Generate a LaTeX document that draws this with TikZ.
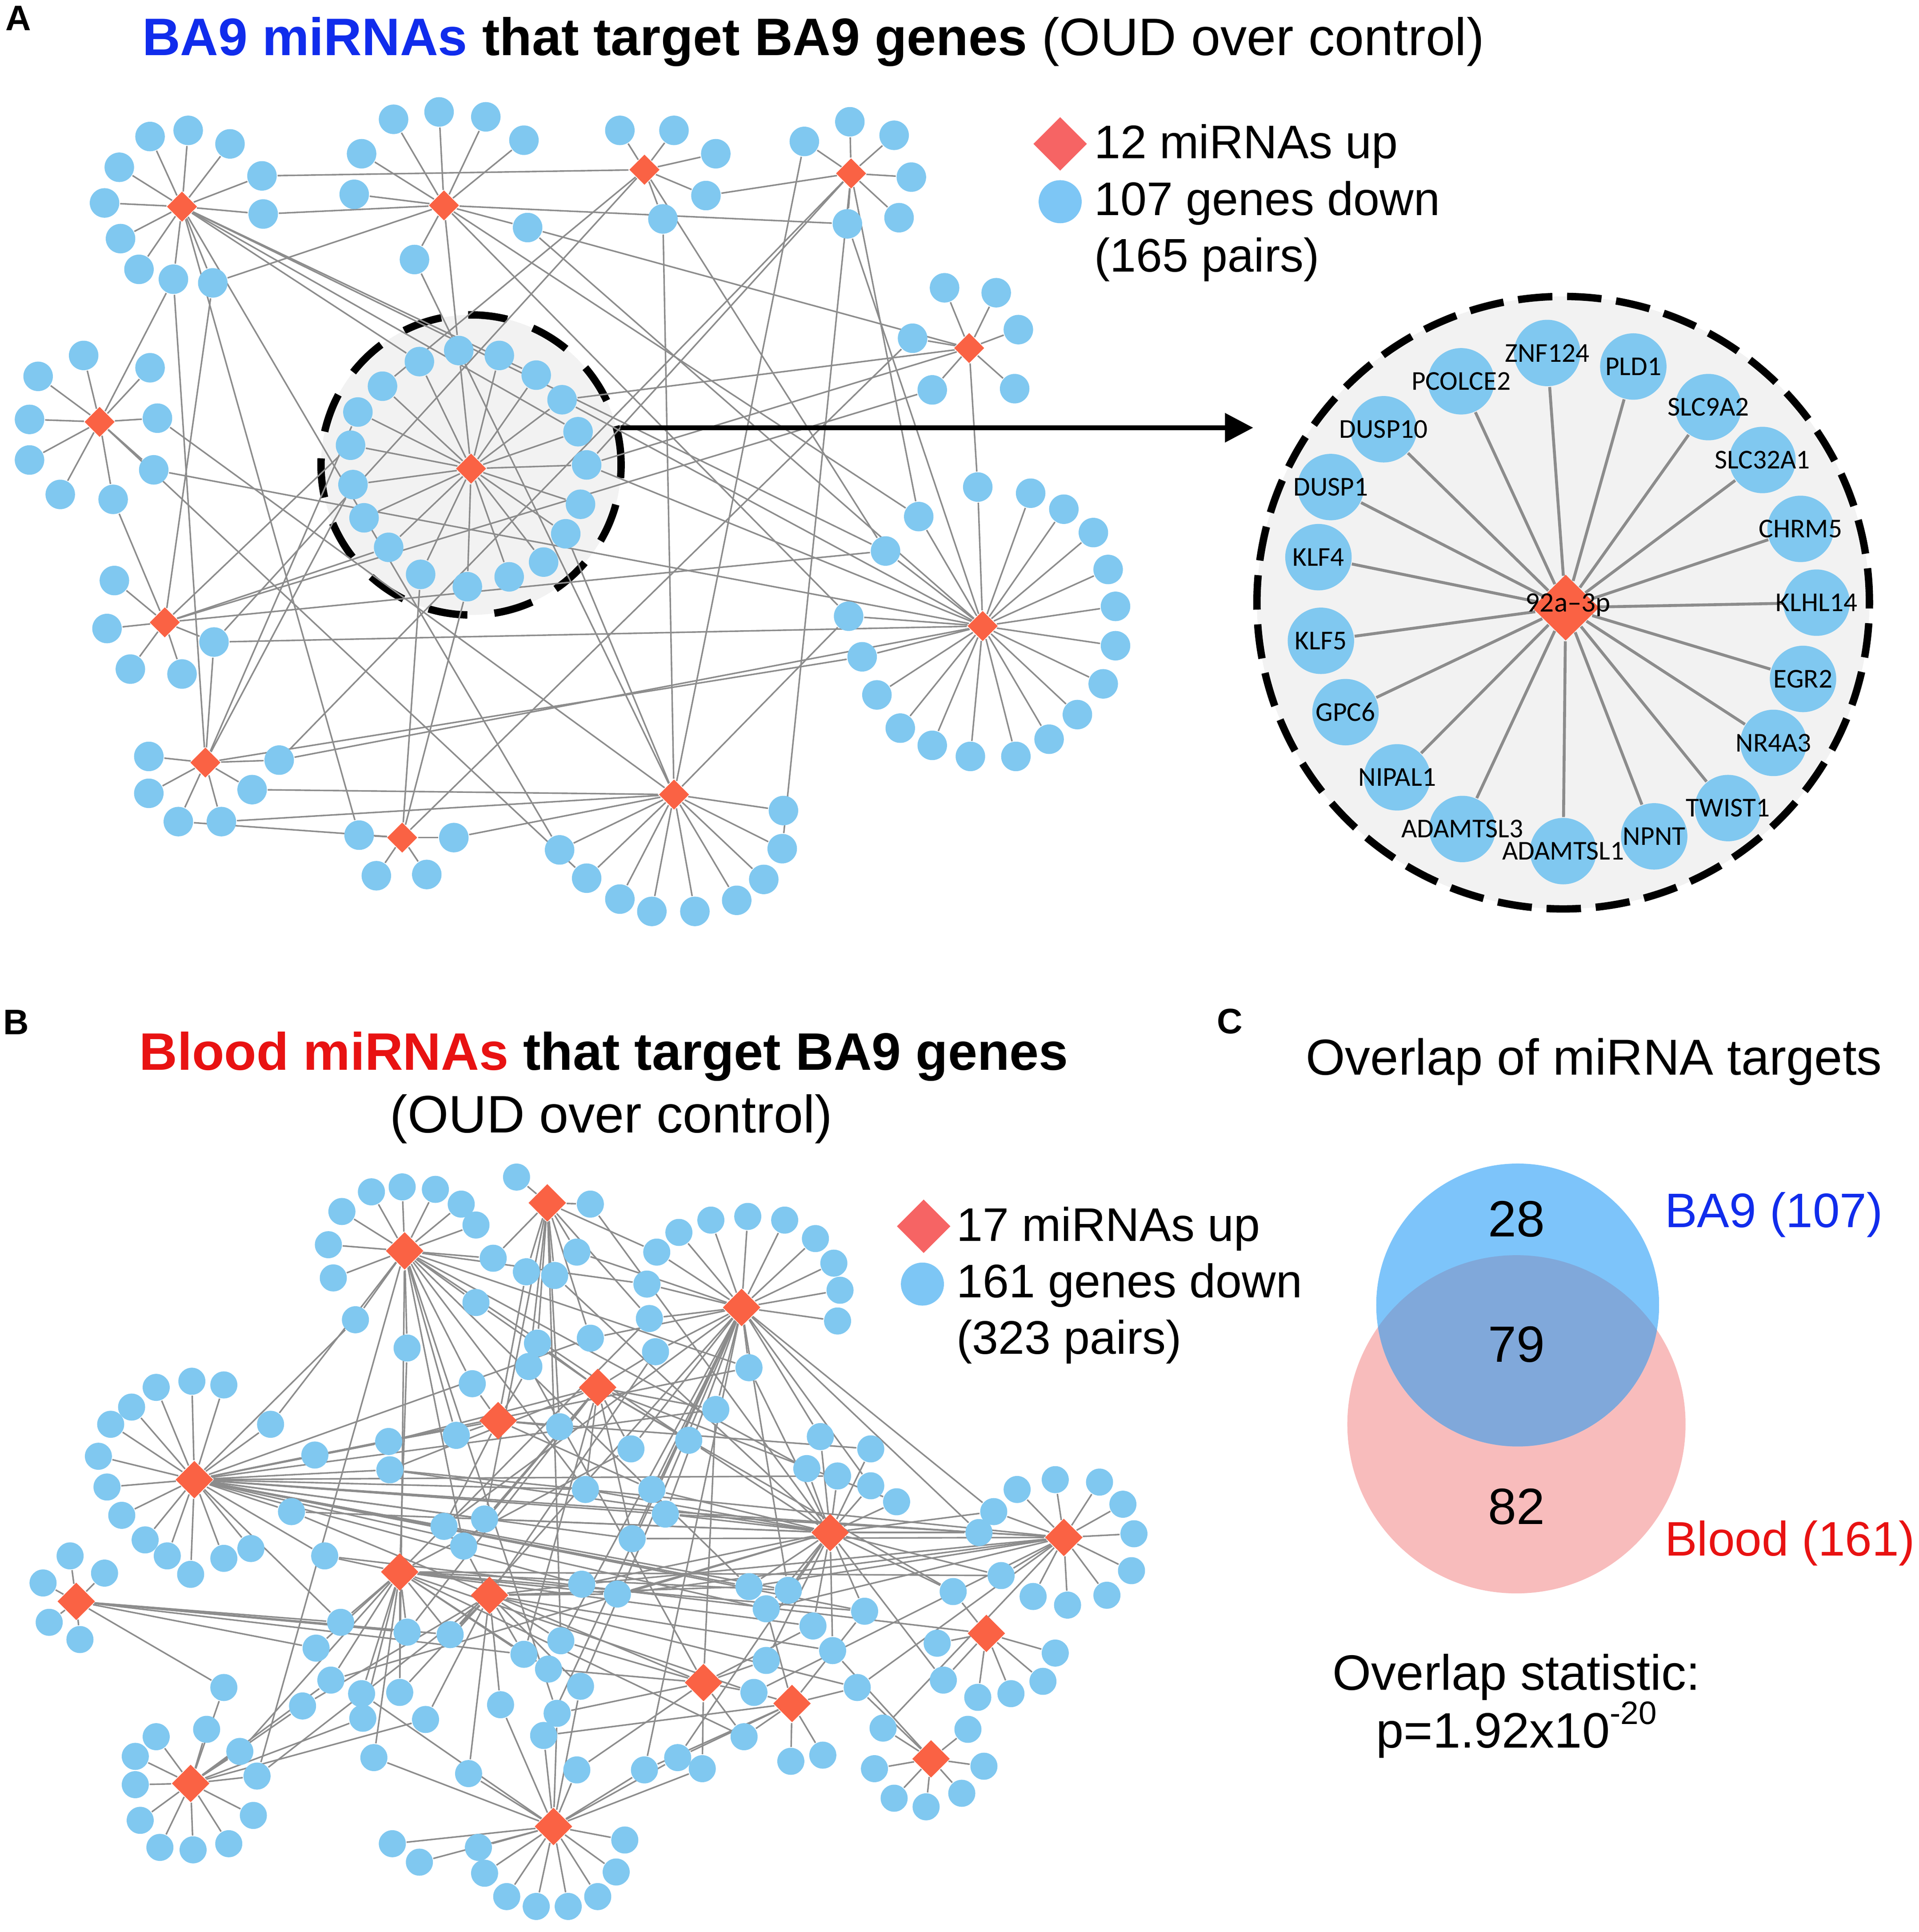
\documentclass[tikz,border=0pt]{standalone}
\usepackage{fontspec}
\setmainfont{Liberation Sans}
\newfontfamily\cytofont{Carlito}
\usetikzlibrary{shapes.geometric,arrows.meta}
\definecolor{genecol}{RGB}{128,200,240}
\definecolor{hubcol}{RGB}{250,98,68}
\definecolor{legred}{RGB}{246,100,100}
\definecolor{legblue}{RGB}{125,198,245}
\definecolor{linkgray}{RGB}{140,140,140}
\definecolor{bggray}{RGB}{242,242,242}
\definecolor{ba9blue}{RGB}{16,44,236}
\definecolor{bloodred}{RGB}{232,18,18}
\definecolor{vennblue}{RGB}{125,196,250}
\definecolor{vennpink}{RGB}{248,188,188}
\definecolor{vennmix}{RGB}{128,168,218}
\pgfdeclarelayer{back}
\pgfdeclarelayer{edges}
\pgfsetlayers{back,edges,main}

\def\agenes{
  A1/148/168/{122/111,153/106,187/117,97/136,213/143,85/165,214/174,98/194,113/219,141/227,173/230},
  A2/361/167/{320/97,357/91,395/95,426/114,294/125,288/158,429/185,337/211},
  A3/524/138/{504/106,548/106,582/125,574/159,539/178},
  A4/692/141/{654/115,691/99,727/110,741/144,731/177,689/182},
  A5/788/283/{768/234,810/238,828/268,825/316,758/317,742/275},
  A6/81/343/{68/289,31/306,122/299,24/341,128/340,24/374,125/382,49/402,92/406},
  A7/383/381/{341/294,373/285,406/289,436/305,457/325,470/351,477/378,472/410,460/434,442/457,
              414/469,380/477,342/467,316/445,296/421,287/394,285/362,291/335,311/314},
  A8/799/509/{795/396,838/401,865/414,889/433,901/463,907/493,907/525,897/556,876/581,853/601,
              826/615,789/615,758/606,732/592,713/565,701/534,690/501,720/448,747/420},
  A9/134/506/{93/472,87/511,106/544,148/548,174/522},
  A10/167/620/{121/615,121/645,227/618,205/642,145/668,180/668},
  A11/548/646/{637/659,636/690,621/715,599/732,565/741,530/741,504/731,477/714,455/691},
  A12/327/681/{292/679,369/681,306/712,347/711}}

\def\zgenes{1258/287/ZNF124,1328/298/PLD1,1389/331/SLC9A2,1433/374/SLC32A1,
  1464/430/CHRM5,1477/490/KLHL14,1466/552/EGR2,1442/604/NR4A3,1405/657/TWIST1,
  1345/680/NPNT,1271/692/ADAMTSL1,1189/674/ADAMTSL3,1136/632/NIPAL1,1094/579/GPC6,
  1074/521/KLF5,1072/453/KLF4,1082/396/DUSP1,1125/349/DUSP10,1188/310/PCOLCE2}

\def\bgenes{
  302/969/{B1},327/965/{B1},354/967/{B1},375/979/{B1},387/996/{B1},278/985/{B1},
  267/1012/{B1},271/1039/{B1},
  420/957/{B2},480/979/{B2,B7},401/1023/{B1,B2},469/1018/{B2,B3},428/1034/{B2,B5},
  451/1037/{B2,B7},387/1059/{B1,B4},289/1073/{B1,B6},331/1096/{B1,B9},437/1092/{B2,B4},
  430/1111/{B2,B5,B13},480/1088/{B2,B3,B6},384/1125/{B1,B5},534/1018/{B3,B2},
  526/1044/{B3,B1},528/1072/{B3,B2,B9},533/1099/{B3,B4,B10},
  552/1002/{B3},578/992/{B3},608/989/{B3},638/992/{B3},663/1007/{B3},678/1027/{B3},
  683/1049/{B3},681/1074/{B3},
  609/1112/{B3,B7,B1,B6},582/1146/{B3,B4,B13,B6},560/1171/{B4,B7,B1},513/1178/{B4,B9,B3},
  476/1211/{B4,B7,B6,B1},530/1211/{B5,B7,B3},541/1231/{B3,B7,B6,B8},514/1251/{B4,B8,B3,B6},
  361/1241/{B6,B5,B3},394/1235/{B4,B7,B6,B2},377/1257/{B4,B10,B1},316/1172/{B6,B4},
  317/1195/{B6,B4,B8,B7},371/1167/{B5,B1},256/1183/{B6,B5},220/1158/{B6,B1},
  237/1229/{B6,B7,B13},264/1265/{B6,B9,B12},455/1160/{B5,B2},
  204/1259/{B6},182/1267/{B6},155/1280/{B6},136/1265/{B6},118/1252/{B6},99/1232/{B6},
  87/1209/{B6},80/1184/{B6},90/1158/{B6},107/1144/{B6},127/1128/{B6},156/1123/{B6},
  182/1126/{B6},
  57/1265/{B11},85/1279/{B11},35/1287/{B11},40/1319/{B11},65/1333/{B11},
  667/1168/{B7,B3},708/1178/{B7,B5},656/1194/{B7,B1},681/1200/{B7,B6},708/1208/{B7,B3},
  729/1221/{B7,B4},
  827/1211/{B8},858/1203/{B8},894/1205/{B8},913/1223/{B8},922/1247/{B8},920/1277/{B8},
  900/1297/{B8},868/1305/{B8},840/1298/{B8},814/1281/{B8,B7,B9},796/1246/{B8,B7,B3,B6},
  808/1229/{B8,B7,B3},
  775/1294/{B12,B7,B4},762/1336/{B12},858/1344/{B12},848/1367/{B12},822/1377/{B12},
  795/1380/{B12},767/1366/{B12,B7},
  703/1310/{B7,B14,B6,B9},661/1322/{B7,B13,B9},677/1342/{B7,B15,B10},623/1350/{B7,B13},
  609/1290/{B7,B10,B1,B6,B8},641/1293/{B7,B9,B3,B6},623/1308/{B7,B14,B6,B8},
  473/1288/{B10,B7,B6,B8},502/1296/{B10,B7,B9,B8},456/1334/{B10,B13,B3,B2},
  426/1345/{B10,B9,B4,B11},446/1357/{B9,B13},472/1371/{B10,B17,B3},407/1386/{B10,B17},
  453/1393/{B17,B13,B1},366/1329/{B9,B10,B11,B3},331/1327/{B9,B4,B11},
  277/1319/{B9,B6,B11},257/1340/{B9,B11},269/1366/{B9,B16,B7},
  294/1377/{B9,B17},325/1376/{B9,B10,B1},346/1398/{B10,B16},295/1397/{B16,B9},
  246/1387/{B16,B10},182/1372/{B16,B11},168/1406/{B16},195/1424/{B16,B9},
  209/1444/{B16,B10,B1},304/1429/{B17,B9},381/1442/{B17,B10},442/1411/{B17,B14,B3},
  469/1439/{B17,B13},524/1439/{B17,B14,B3},551/1429/{B14,B17,B7},571/1438/{B13,B17},
  605/1412/{B14,B13,B9},613/1376/{B14,B13,B8,B9},697/1372/{B14,B15,B8,B10},718/1405/{B15,B8},
  643/1432/{B14},669/1427/{B14},711/1438/{B15},787/1406/{B15},800/1436/{B15},
  727/1462/{B15},753/1469/{B15},782/1458/{B15},
  127/1412/{B16},110/1428/{B16},110/1451/{B16},114/1480/{B16},130/1502/{B16},
  157/1504/{B16},186/1499/{B16},206/1476/{B16},
  319/1499/{B17},341/1514/{B17},389/1502/{B17},394/1523/{B17},412/1542/{B17},
  436/1550/{B17},462/1550/{B17},486/1542/{B17},501/1522/{B17},508/1496/{B17}}

\begin{document}
\begin{tikzpicture}[x=0.1mm,y=-0.1mm,
    gene/.style={circle,fill=genecol,inner sep=0pt,minimum size=2.4mm},
    geneB/.style={gene,minimum size=2.2mm},
    mirna/.style={diamond,fill=hubcol,inner sep=0pt,minimum width=2.5mm,minimum height=2.5mm},
    mirnaB/.style={mirna,minimum width=3.1mm,minimum height=3.1mm},
    biggene/.style={gene,minimum size=5.4mm},
    bigmirna/.style={mirna,minimum width=5.5mm,minimum height=5.4mm},
    link/.style={draw=linkgray,line width=0.35pt},
    biglink/.style={draw=linkgray,line width=0.68pt},
    zoomring/.style={circle,fill=bggray,draw=black,line width=0.6mm,inner sep=0pt},
    zoomarrow/.style={draw=black,line width=0.4mm,-{Triangle[length=2.3mm,width=2.3mm]}},
    panel/.style={inner sep=0pt,font=\bfseries\fontsize{8.2}{9}\selectfont},
    title/.style={inner sep=0pt,font=\fontsize{12.2}{14}\selectfont},
    legend/.style={anchor=base west,inner sep=0pt,font=\fontsize{10.9}{13}\selectfont},
    venn/.style={inner sep=0pt,font=\fontsize{11.5}{14}\selectfont},
    setname/.style={anchor=base west,inner sep=0pt,font=\fontsize{11.2}{13}\selectfont},
    tag/.style={inner sep=0pt,font=\cytofont\fontsize{6.3}{7}\selectfont}]

  \useasboundingbox (0,0) rectangle (1560,1570.8);

  \node[panel] (labA) at (15,15) {A};
  \node[panel] (labB) at (13,831) {B};
  \node[panel] (labC) at (1000,830.5) {C};

  \node[title,anchor=base west] (titleA) at (115,45)
    {\textbf{\color{ba9blue}BA9 miRNAs} \textbf{that target BA9 genes} (OUD over control)};

  \begin{pgfonlayer}{back}
    \node[zoomring,minimum size=24.4mm,dash pattern=on 3.2mm off 2.2mm] (zoomA) at (383,378) {};
    \node[zoomring,minimum size=49.8mm,dash pattern=on 2.8mm off 1.2mm] (zoomB) at (1271,490) {};
  \end{pgfonlayer}

  % panel A network
  \foreach \h/\hx/\hy/\glist in \agenes {
    \node[mirna] (\h) at (\hx,\hy) {};
    \foreach \gx/\gy [count=\i] in \glist
      \node[gene] (\h-\i) at (\gx,\gy) {};
  }

  \coordinate (tip) at (1019,349);
  \draw[zoomarrow] (zoomA.14) -- (zoomA.14 -| tip);

  \node[bigmirna] (Z) at (1273,494) {};
  \node[tag,font=\cytofont\fontsize{6.5}{7}\selectfont] (Zt) at (1275,492) {92a–3p};
  \foreach \gx/\gy/\g in \zgenes {
    \node[biggene] (z\g) at (\gx,\gy) {};
    \node[tag] (t\g) at (z\g) {\g};
  }

  \node[mirna,fill=legred,minimum width=4.4mm,minimum height=4.4mm] (legA1) at (862,117) {};
  \node[gene,fill=legblue,minimum size=3.5mm] (legA2) at (862,164) {};
  \node[legend] (legA1t) at (889,129) {12 miRNAs up};
  \node[legend] (legA2t) at (889,175) {107 genes down};
  \node[legend] (legA3t) at (889,221) {(165 pairs)};

  % panel B network
  \node[title,anchor=base] (titleB1) at (491,870)
    {\textbf{\color{bloodred}Blood miRNAs} \textbf{that target BA9 genes}};
  \node[title,anchor=base] (titleB2) at (497,921) {(OUD over control)};

  \foreach \h/\hx/\hy in {B1/329/1017,B2/445/978,B3/603/1063,B4/486/1128,B5/405/1155,
      B6/158/1203,B7/675/1246,B8/865/1250,B9/325/1278,B10/398/1297,B11/62/1302,
      B12/802/1328,B13/572/1368,B14/644/1385,B15/757/1430,B16/155/1450,B17/450/1485}
    \node[mirnaB] (\h) at (\hx,\hy) {};
  \foreach \gx/\gy/\hs [count=\i] in \bgenes
    \node[geneB] (b\i) at (\gx,\gy) {};

  \begin{pgfonlayer}{edges}
    \foreach \h/\n in {A1/11,A2/8,A3/5,A4/6,A5/6,A6/9,A7/19,A8/19,A9/5,A10/6,A11/9,A12/4}
      \foreach \i in {1,...,\n}
        \draw[link] (\h) -- (\h-\i);
    \foreach \a/\b in {A3/A1-5,A2/A1-7,A2/A1-11,A2/A4-6,A4/A3-4,A1/A7-1,A1/A7-4,A1/A11-9,
        A1/A8-18,A1/A7-6,A2/A8-17,A2/A7-2,A3/A7-19,A3/A9-5,A11/A3-5,A11/A4-1,A8/A4-6,
        A4/A7-7,A4/A10-3,A5/A7-5,A5/A7-7,A9/A5-5,A12/A5-6,A11/A6-5,A8/A6-7,A6/A1-10,
        A9/A6-9,A9/A7-17,A9/A7-14,A10/A9-5,A8/A9-5,A9/A1-11,A11/A10-4,A8/A10-3,A11/A10-6,
        A10/A1-10,A11/A2-8,A11/A8-17,A12/A7-12,A11/A12-2,A8/A7-7,A10/A8-16,A8/A2-7,
        A8/A7-5,A5/A8-1,A2/A8-19,A4/A8-19,A12/A10-5,A10/A7-16,A6/A11-8,A3/A8-18,
        A4/A11-2,A9/A8-18,A10/A7-18,A11/A7-9,A12/A7-13,A5/A2-7,A1/A12-1}
      \draw[link] (\a) -- (\b);
    \foreach \gx/\gy/\g in \zgenes
      \draw[biglink] (Z) -- (z\g);
    \foreach \gx/\gy/\hs [count=\i] in \bgenes
      \foreach \h in \hs
        \draw[link] (\h) -- (b\i);
  \end{pgfonlayer}

  \node[mirna,fill=legred,minimum width=4.4mm,minimum height=4.4mm] (legB1) at (751,997) {};
  \node[gene,fill=legblue,minimum size=3.5mm] (legB2) at (750,1044) {};
  \node[legend] (legB1t) at (777,1009) {17 miRNAs up};
  \node[legend] (legB2t) at (777,1055) {161 genes down};
  \node[legend] (legB3t) at (777,1101) {(323 pairs)};

  % panel C overlap
  \node[venn,anchor=base,font=\fontsize{11.7}{14}\selectfont] (titleC) at (1296,874) {Overlap of miRNA targets};
  \fill[vennpink] (1233,1158) circle[radius=137.5];
  \fill[vennblue] (1234,1061) circle[radius=115];
  \begin{scope}
    \clip (1234,1061) circle[radius=115];
    \fill[vennmix] (1233,1158) circle[radius=137.5];
  \end{scope}
  \node[venn,font=\fontsize{11.8}{14}\selectfont] (n28) at (1233,991) {28};
  \node[venn,font=\fontsize{11.8}{14}\selectfont] (n79) at (1233,1093) {79};
  \node[venn,font=\fontsize{11.8}{14}\selectfont] (n82) at (1233,1225) {82};
  \node[setname,text=ba9blue] (setA) at (1353,998) {BA9 (107)};
  \node[setname,text=bloodred] (setB) at (1353,1265) {Blood (161)};
  \node[venn,anchor=base] (stat1) at (1233,1374) {Overlap statistic:};
  \node[venn,anchor=base] (stat2) at (1233,1421) {p=1.92x10\raisebox{0.9ex}{\fontsize{7.5}{9}\selectfont -20}};
\end{tikzpicture}
\end{document}
